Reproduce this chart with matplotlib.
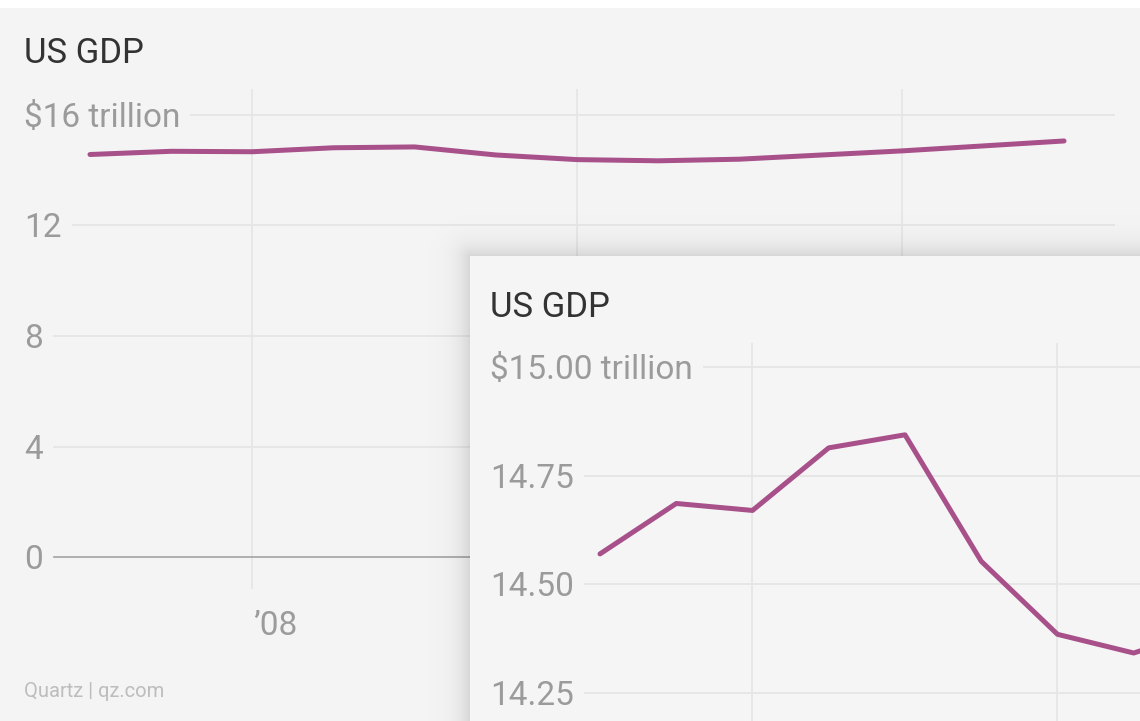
import numpy as np
import matplotlib
matplotlib.use('Agg')
import matplotlib.pyplot as plt
from matplotlib.patches import Rectangle
from matplotlib import transforms

plt.rcParams['font.family'] = ['Roboto', 'DejaVu Sans']

# quarterly US GDP, $ trillion (2007 Q3 .. 2010 Q3)
quarters = ['2007Q3', '2007Q4', '2008Q1', '2008Q2', '2008Q3', '2008Q4', '2009Q1',
            '2009Q2', '2009Q3', '2009Q4', '2010Q1', '2010Q2', '2010Q3']
gdp = [14.57, 14.686, 14.67, 14.814, 14.844, 14.553, 14.385,
       14.342, 14.40, 14.55, 14.70, 14.88, 15.06]

year_pos = [2, 6, 10]
year_labels = ['\u201908', '\u201909', '\u201910']

full_ticks = [0, 4, 8, 12, 16]
full_labels = ['0', '4', '8', '12', '$16 trillion']
zoom_ticks = [14.25, 14.50, 14.75, 15.00]
zoom_labels = ['14.25', '14.50', '14.75', '$15.00 trillion']

W, H = 1140, 721
LINE = '#a8508a'
GRID = '#e5e5e5'
TICK = '#9b9b9b'
TITLE = '#333333'

fig = plt.figure(figsize=(W / 100, H / 100), dpi=100)
fig.patch.set_facecolor('white')
fig.patches.append(Rectangle((0, 0), 1, (H - 8) / H, transform=fig.transFigure,
                             facecolor='#f4f4f4', edgecolor='none', zorder=0))


def px_axes(x0, y0, x1, y1, **kw):
    return fig.add_axes([x0 / W, 1 - y1 / H, (x1 - x0) / W, (y1 - y0) / H], **kw)


def clean(ax):
    ax.set_facecolor('none')
    for s in ax.spines.values():
        s.set_visible(False)
    ax.set_xticks([])
    ax.set_yticks([])


def y_labels(ax, ticks, labels, zero_line=False):
    renderer = fig.canvas.get_renderer()
    trans = transforms.blended_transform_factory(ax.transAxes, ax.transData)
    trans = transforms.offset_copy(trans, fig=fig, x=0, y=-12, units='dots')
    box = ax.get_window_extent(renderer)
    for v, lab in zip(ticks, labels):
        t = ax.text(0, v, lab, transform=trans, ha='left', va='baseline',
                    fontsize=24, color=TICK, clip_on=False)
        x_end = t.get_window_extent(renderer).x1 + 11
        start = (x_end - box.x0) / box.width
        if zero_line and v == 0:
            ax.axhline(v, xmin=start, xmax=1, color='#a3a3a3', lw=1.2, zorder=2)
        else:
            ax.axhline(v, xmin=start, xmax=1, color=GRID, lw=1.3, zorder=1)


# full-scale chart
ax = px_axes(24, 89, 1115, 589, zorder=1)
clean(ax)
ax.set_xlim(-0.813, 12.628)
ax.set_ylim(-1.158, 16.941)
for p in year_pos:
    ax.axvline(p, color=GRID, lw=1.2, zorder=1)
y_labels(ax, full_ticks, full_labels, zero_line=True)
ax.plot(range(len(gdp)), gdp, color=LINE, lw=3.6,
        solid_capstyle='round', solid_joinstyle='round', zorder=3)

xtrans = transforms.offset_copy(
    transforms.blended_transform_factory(ax.transData, ax.transAxes),
    fig=fig, x=1, y=-46, units='dots')
for p, lab in zip(year_pos, year_labels):
    ax.text(p, 0, lab, transform=xtrans, ha='left', va='baseline',
            fontsize=24, color=TICK, clip_on=False)

ax.text(24 / W, 1 - 63 / H, 'US GDP', transform=fig.transFigure,
        ha='left', va='baseline', fontsize=25, color=TITLE)
ax.text(24 / W, 1 - 697 / H, 'Quartz | qz.com', transform=fig.transFigure,
        ha='left', va='baseline', fontsize=14.5, color='#bdbdbd')

# zoomed card with a soft shadow on top of it
cx, cy = 470, 256
ov = fig.add_axes([0, 0, 1, 1], zorder=2)
ov.set_xlim(0, W)
ov.set_ylim(H, 0)
ov.axis('off')
yy, xx = np.mgrid[0:H, 0:W]
d = np.hypot(np.clip(cx - xx, 0, None), np.clip(cy - yy, 0, None))
shadow = np.zeros((H, W, 4))
shadow[..., 3] = 0.13 * np.exp(-d / 12.0)
ov.imshow(shadow, extent=(0, W, H, 0), aspect='auto', interpolation='bilinear')
ov.add_patch(Rectangle((cx, cy), W - cx, H - cy, facecolor='#f5f5f5', edgecolor='none'))

ax2 = px_axes(490, 343, 1140, 721, zorder=3)
clean(ax2)
ax2.set_xlim(-1.4426, 7.082)
ax2.set_ylim(14.1856, 15.0552)
for p in year_pos:
    ax2.axvline(p, color=GRID, lw=1.2, zorder=1)
y_labels(ax2, zoom_ticks, zoom_labels)
ax2.plot(range(len(gdp)), gdp, color=LINE, lw=3.6,
         solid_capstyle='round', solid_joinstyle='round', zorder=3)
ax2.text(490 / W, 1 - 317 / H, 'US GDP', transform=fig.transFigure,
         ha='left', va='baseline', fontsize=25, color=TITLE)

fig.savefig('out.png', dpi=100, facecolor=fig.get_facecolor())
